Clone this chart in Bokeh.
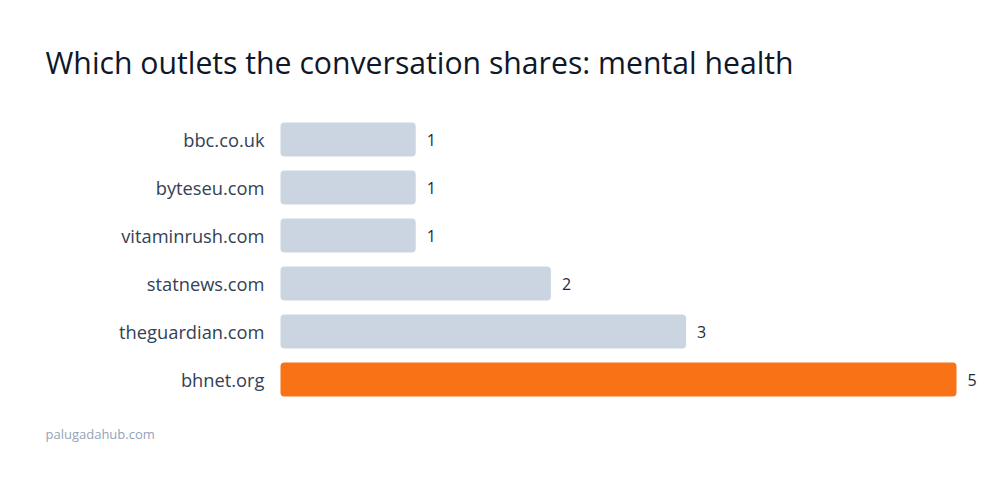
from bokeh.plotting import figure
from bokeh.models import ColumnDataSource, Range1d, Label
from bokeh.core.properties import value
from bokeh.embed import file_html
from bokeh.resources import INLINE

# Data
outlets = ["bbc.co.uk", "byteseu.com", "vitaminrush.com", "statnews.com", "theguardian.com", "bhnet.org"]
shares = [1, 1, 1, 2, 3, 5]
highlight = "bhnet.org"
title_text = "Which outlets the conversation shares: mental health"
footer_text = "palugadahub.com"

FONT = "Open Sans"
n = len(outlets)
colors = ["#f97316" if o == highlight else "#cbd5e1" for o in outlets]
rank = [n - 1 - i for i in range(n)]  # row position, top row highest
src = ColumnDataSource(dict(outlet=outlets, share=shares, color=colors, row=rank,
                            vlabel=[str(s) for s in shares]))

p = figure(width=1000, height=486, output_backend="svg", toolbar_location=None,
           y_range=Range1d(-107 / 48, 379 / 48),
           x_range=Range1d(-280 / 135.2, 720 / 135.2),
           min_border=0)
p.axis.visible = False
p.grid.visible = False
p.outline_line_color = None
p.background_fill_color = "white"
p.border_fill_color = "white"

p.hbar(y="row", left=0, right="share", height=0.71, fill_color="color",
       line_color=None, border_radius=4, source=src)

p.text(x=0, y="row", text="outlet", source=src, x_offset=-16,
       text_align="right", text_baseline="middle", text_font=value(FONT),
       text_font_size="18.3px", text_color="#334155")
p.text(x="share", y="row", text="vlabel", source=src, x_offset=11,
       text_align="left", text_baseline="middle", text_font=value(FONT),
       text_font_size="16px", text_color="#1e293b")

p.add_layout(Label(x=45, y=486 - 62, x_units="screen", y_units="screen", text=title_text,
                   text_font=FONT, text_font_size="30.2px", text_color="#0f172a",
                   text_baseline="alphabetic"))
p.add_layout(Label(x=45, y=486 - 433, x_units="screen", y_units="screen", text=footer_text,
                   text_font=FONT, text_font_size="13px", text_color="#94a3b8",
                   text_baseline="alphabetic"))

open("out.html", "w").write(file_html(p, INLINE))
